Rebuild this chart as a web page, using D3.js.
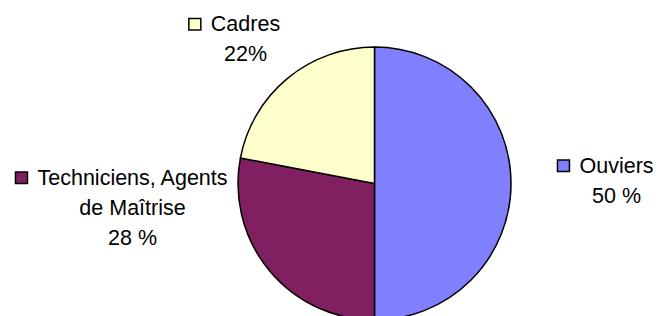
<!DOCTYPE html>
<html>
<head>
<meta charset="utf-8">
<script src="https://cdn.jsdelivr.net/npm/d3@7"></script>
<style>
  body { margin: 0; background: #fff; }
  svg text { font-family: "Liberation Sans", Arial, sans-serif; font-size: 21.5px; fill: #000; }
</style>
</head>
<body>
<svg id="chart"></svg>
<script>
// data
const categories = ["Ouviers", "Techniciens, Agents de Maîtrise", "Cadres"];
const shares = [50, 28, 22];
const labelLines = [["Ouviers"], ["Techniciens, Agents", "de Maîtrise"], ["Cadres"]];
const pctLabels = ["50 %", "28 %", "22%"];
const colors = ["#8080FF", "#802060", "#FFFFCC"];

let width = 657, height = 316;
let center = {x: 374.5, y: 183.5};
let radius = 136.5;
let lineGap = 30;

// where each label's text column sits, relative to the pie centre
let labelOffset = [[242, -11], [-242, 1], [-129, -152.5]];

let svg = d3.select('#chart')
    .attr("width", width)
    .attr("height", height);

let data = categories.map((c, i) => ({name: c, value: shares[i], color: colors[i], lines: labelLines[i], pct: pctLabels[i]}));

let pie = d3.pie()
    .sort(null)
    .value(d => d.value);

let arc = d3.arc()
    .innerRadius(0)
    .outerRadius(radius);

let g = svg.append("g")
    .attr("transform", "translate(" + center.x + "," + center.y + ")");

g.selectAll("path")
    .data(pie(data))
    .enter()
    .append("path")
        .attr("d", arc)
        .style("fill", d => d.data.color)
        .style("stroke", "#000")
        .style("stroke-width", 1.5)
        .style("stroke-linejoin", "round");

// labels: coloured key square + name, then percentage, centred on the text
let labels = g.selectAll("g.label")
    .data(data)
    .enter()
    .append("g")
        .attr("class", "label")
        .attr("transform", (d, i) => "translate(" + labelOffset[i][0] + "," + labelOffset[i][1] + ")");

labels.each(function(d) {
    let lab = d3.select(this);
    let lines = d.lines.concat([d.pct]);
    lines.forEach((t, k) => {
        lab.append("text")
            .attr("x", 0)
            .attr("y", k * lineGap)
            .attr("text-anchor", "middle")
            .text(t);
    });
    let w = lab.select("text").node().getComputedTextLength();
    lab.append("rect")
        .attr("x", -w / 2 - 22)
        .attr("y", -12.5)
        .attr("width", 12)
        .attr("height", 11.5)
        .style("fill", d.color)
        .style("stroke", "#000")
        .style("stroke-width", 1.5);
});
</script>
</body>
</html>
